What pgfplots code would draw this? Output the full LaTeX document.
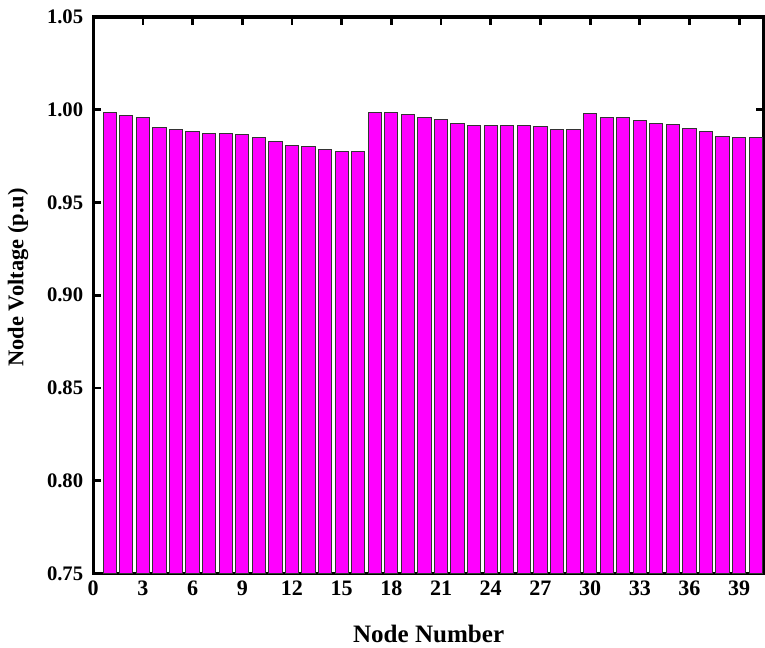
\documentclass[border=0pt]{standalone}
\usepackage{fontspec}
\setmainfont{Liberation Serif}
\usepackage{pgfplots}
\pgfplotsset{compat=1.18}
\usetikzlibrary{calc}
\definecolor{barmag}{HTML}{FF00FF}
\begin{document}
\begin{tikzpicture}
\begin{axis}[
  ybar, bar width=0.8,
  scale only axis,
  width=334.5pt, height=277.5pt,
  xmin=0, xmax=40.5,
  ymin=0.75, ymax=1.05,
  xtick={0,3,...,39},
  ytick={0.75,0.80,...,1.05},
  minor tick num=0,
  tick align=inside,
  xtick align=inside, ytick align=inside,
  major tick length=4pt,
  axis line style={line width=1.6pt},
  every tick/.style={line width=1.4pt, black},
  /pgf/number format/assume math mode=true,
  yticklabel style={/pgf/number format/fixed, /pgf/number format/fixed zerofill, /pgf/number format/precision=2, font=\fontsize{10.3}{12}\selectfont\bfseries, xshift=-1.5pt},
  xticklabel style={font=\fontsize{11}{13}\selectfont\bfseries},
  xlabel={Node Number},
  ylabel={Node Voltage (p.u)},
  xlabel style={font=\fontsize{12.5}{14}\selectfont\bfseries, at={(axis description cs:0.5,-0.108)}, anchor=center},
  ylabel style={font=\fontsize{11.2}{13}\selectfont\bfseries, at={(axis description cs:-0.112,0.532)}, anchor=center},
]
\addplot[fill=barmag, draw=black!80, line width=0.5pt] coordinates {
(1,0.9986) (2,0.9969) (3,0.9958) (4,0.9907) (5,0.9893) (6,0.9884) (7,0.9873) (8,0.9871) (9,0.9869) (10,0.9850)
(11,0.9828) (12,0.9806) (13,0.9801) (14,0.9785) (15,0.9777) (16,0.9774) (17,0.9986) (18,0.9986) (19,0.9974) (20,0.9958)
(21,0.9947) (22,0.9925) (23,0.9915) (24,0.9915) (25,0.9915) (26,0.9913) (27,0.9911) (28,0.9896) (29,0.9891) (30,0.9979)
(31,0.9961) (32,0.9956) (33,0.9941) (34,0.9925) (35,0.9922) (36,0.9898) (37,0.9882) (38,0.9855) (39,0.9850) (40,0.9850)
};
\end{axis}
\pgfresetboundingbox
\path ($(current axis.south west)+(-46.5pt,-37pt)$) rectangle ($(current axis.north east)+(0.5pt,8.5pt)$);
\end{tikzpicture}
\end{document}
